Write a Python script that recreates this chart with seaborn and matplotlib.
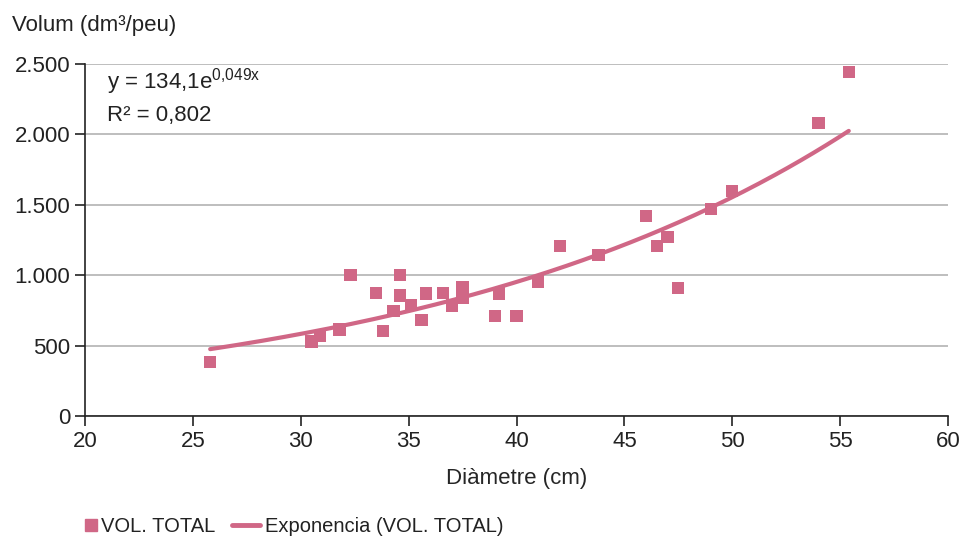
import numpy as np
import pandas as pd
import matplotlib.pyplot as plt
import seaborn as sns

# Diameter (cm) and total volume (dm3/tree)
diametre = [25.8, 30.5, 30.9, 31.8, 32.3, 33.5, 33.8, 34.3, 34.6, 34.6,
            35.1, 35.6, 35.8, 36.6, 37.0, 37.5, 37.5, 39.0, 39.2, 40.0,
            41.0, 42.0, 43.8, 46.0, 46.5, 47.0, 47.5, 49.0, 50.0, 54.0, 55.4]
volum = [385, 530, 570, 615, 1000, 875, 605, 745, 1000, 855,
         790, 680, 870, 875, 785, 915, 840, 710, 870, 710,
         955, 1205, 1145, 1420, 1205, 1270, 910, 1470, 1600, 2080, 2445]

# exponential trend line coefficients shown on the chart
coef_a = 134.1
coef_b = 0.049

pink = '#D06786'

sns.set_style('white')
plt.rcParams['font.family'] = ['Liberation Sans', 'DejaVu Sans']
plt.rcParams['mathtext.fontset'] = 'custom'
plt.rcParams['mathtext.rm'] = 'Liberation Sans'
plt.rcParams['text.color'] = '#222222'

df = pd.DataFrame({'x': diametre, 'y': volum})
xs = np.linspace(min(diametre), max(diametre), 200)
trend = pd.DataFrame({'x': xs, 'y': coef_a * np.exp(coef_b * xs)})

fig = plt.figure(figsize=(9.65, 5.39), dpi=100)
ax = fig.add_axes([0.0881, 0.2282, 0.8943, 0.6531])

sns.lineplot(data=trend, x='x', y='y', ax=ax, color=pink, linewidth=3, zorder=2)
sns.scatterplot(data=df, x='x', y='y', ax=ax, marker='s', s=78, color=pink,
                edgecolor='none', zorder=3)

ax.set_xlim(20, 60)
ax.set_ylim(0, 2500)
ax.set_xticks(range(20, 61, 5))
yt = list(range(0, 2501, 500))
ax.set_yticks(yt)
ax.set_yticklabels([f'{v:,}'.replace(',', '.') for v in yt])
ax.yaxis.grid(True, color='#B3B3B3', linewidth=1.2)
ax.set_axisbelow(True)
for s in ['top', 'right']:
    ax.spines[s].set_visible(False)
for s in ['left', 'bottom']:
    ax.spines[s].set_color('#222222')
    ax.spines[s].set_linewidth(1.2)
ax.tick_params(axis='both', labelsize=16, colors='#222222', length=7, width=1.2,
               direction='out', left=True, bottom=True)
ax.set_xlabel('Diàmetre (cm)', fontsize=16, labelpad=12)
ax.set_ylabel('')
fig.text(12 / 965, 1 - 26 / 539, 'Volum (dm³/peu)', fontsize=16, va='center', ha='left')

ax.text(0.025, 0.95, r'y = 134,1e$^{\mathregular{0{,}049x}}$', transform=ax.transAxes,
        fontsize=16, va='center', ha='left')
ax.text(0.025, 0.855, 'R² = 0,802', transform=ax.transAxes,
        fontsize=16, va='center', ha='left')

# two legend pieces so the square sits right next to its label
sq = plt.Line2D([], [], marker='s', linestyle='none', color=pink, markersize=8.5)
ln = plt.Line2D([], [], color=pink, linewidth=3.5)
leg_y = 1 - 527 / 539
fig.legend([sq], ['VOL. TOTAL'], loc='center left', bbox_to_anchor=(84 / 965, leg_y),
           frameon=False, fontsize=14.5, handlelength=0.65, handletextpad=0.2,
           borderpad=0, borderaxespad=0)
fig.legend([ln], ['Exponencia (VOL. TOTAL)'], loc='center left',
           bbox_to_anchor=(232 / 965, leg_y), frameon=False, fontsize=14.5,
           handlelength=1.4, handletextpad=0.25, borderpad=0, borderaxespad=0)

fig.savefig('out.png', dpi=100)
